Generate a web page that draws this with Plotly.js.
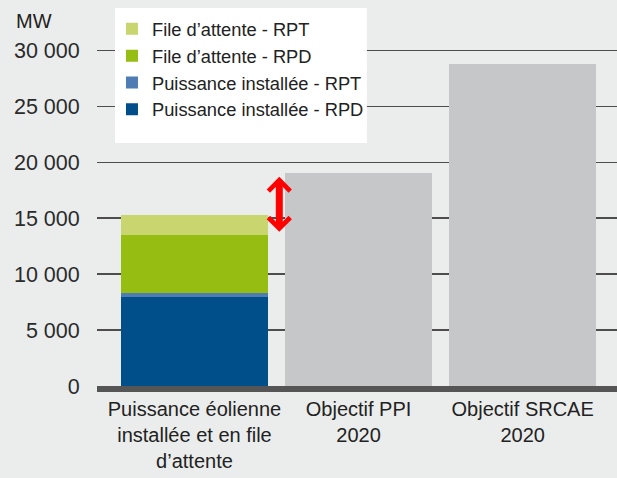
<!DOCTYPE html>
<html>
<head>
<meta charset="utf-8">
<script src="https://cdn.plot.ly/plotly-3.0.1.min.js"></script>
<style>html,body{margin:0;padding:0;background:#ebedec;}</style>
</head>
<body>
<div id="chart" style="width:617px;height:478px;"></div>
<script>
// ---- Data ----
const categories = ["Puissance éolienne<br>installée et en file<br>d’attente", "Objectif PPI<br>2020", "Objectif SRCAE<br>2020"];
const stackCategory = [categories[0]];
const targetCategories = [categories[1], categories[2]];
const installeRPD = [7950];
const installeRPT = [370];
const fileRPD = [5150];
const fileRPT = [1820];
const objectifs = [19000, 28800];
const seriesNames = ["Puissance installée - RPD", "Puissance installée - RPT", "File d’attente - RPD", "File d’attente - RPT"];
const tickValues = [0, 5000, 10000, 15000, 20000, 25000, 30000];
// arrow between stacked bar top and PPI objective (data units)
const arrowTop = 18700;
const arrowBottom = 13650;

const colors = ["#004f8b", "#4f7db3", "#95bd12", "#c9d66f"];
const fam = "Liberation Sans, Arial, sans-serif";

const traces = [
  {type: "bar", x: stackCategory, y: installeRPD, name: seriesNames[0], marker: {color: colors[0]}},
  {type: "bar", x: stackCategory, y: installeRPT, name: seriesNames[1], marker: {color: colors[1]}},
  {type: "bar", x: stackCategory, y: fileRPD, name: seriesNames[2], marker: {color: colors[2]}},
  {type: "bar", x: stackCategory, y: fileRPT, name: seriesNames[3], marker: {color: colors[3]}},
  {type: "bar", x: targetCategories, y: objectifs, name: "Objectifs", showlegend: false, marker: {color: "#c6c7c9"}}
];

const layout = {
  width: 617, height: 478,
  margin: {l: 97, r: 0, t: 28, b: 92},
  paper_bgcolor: "#ebedec",
  plot_bgcolor: "#ebedec",
  barmode: "stack",
  bargap: 0.1,
  separators: ", ",
  font: {family: fam, color: "#222"},
  xaxis: {
    type: "category",
    categoryarray: categories,
    range: [-0.594, 2.575],
    showline: true, linewidth: 6, linecolor: "#555",
    showgrid: false, zeroline: false,
    ticks: "",
    tickfont: {family: fam, size: 20, color: "#222"}
  },
  yaxis: {
    range: [0, 32000],
    tickvals: tickValues,
    tickformat: ",d",
    showgrid: true, gridcolor: "#4d4d4d", gridwidth: 1.5,
    zeroline: false, showline: false,
    ticks: "outside", ticklen: 12, tickcolor: "rgba(0,0,0,0)",
    tickfont: {family: fam, size: 21.5, color: "#2a2a2a"}
  },
  legend: {
    x: 0.0288, y: 1.049, xanchor: "left", yanchor: "top",
    bgcolor: "rgba(0,0,0,0)", borderwidth: 0,
    traceorder: "reversed",
    font: {family: fam, size: 18.3, color: "#222"}
  },
  shapes: [
    {type: "rect", xref: "paper", yref: "paper", x0: 0.0346, x1: 0.519, y0: 0.6788, y1: 1.0559,
     fillcolor: "#ffffff", line: {width: 0}, layer: "above"}
  ],
  annotations: [
    {xref: "paper", yref: "paper", x: -0.16, y: 1.055, xanchor: "left", yanchor: "top",
     text: "MW", showarrow: false, font: {family: fam, size: 20, color: "#222"}},
    {x: 0.517, y: arrowTop, ax: 0.517, ay: arrowBottom, xref: "x", yref: "y", axref: "x", ayref: "y",
     text: "", showarrow: true, arrowside: "end+start", arrowhead: 4, arrowsize: 0.6, arrowwidth: 7, arrowcolor: "#ff0000"}
  ],
  showlegend: true
};

Plotly.newPlot("chart", traces, layout, {staticPlot: true, displayModeBar: false});
</script>
</body>
</html>
